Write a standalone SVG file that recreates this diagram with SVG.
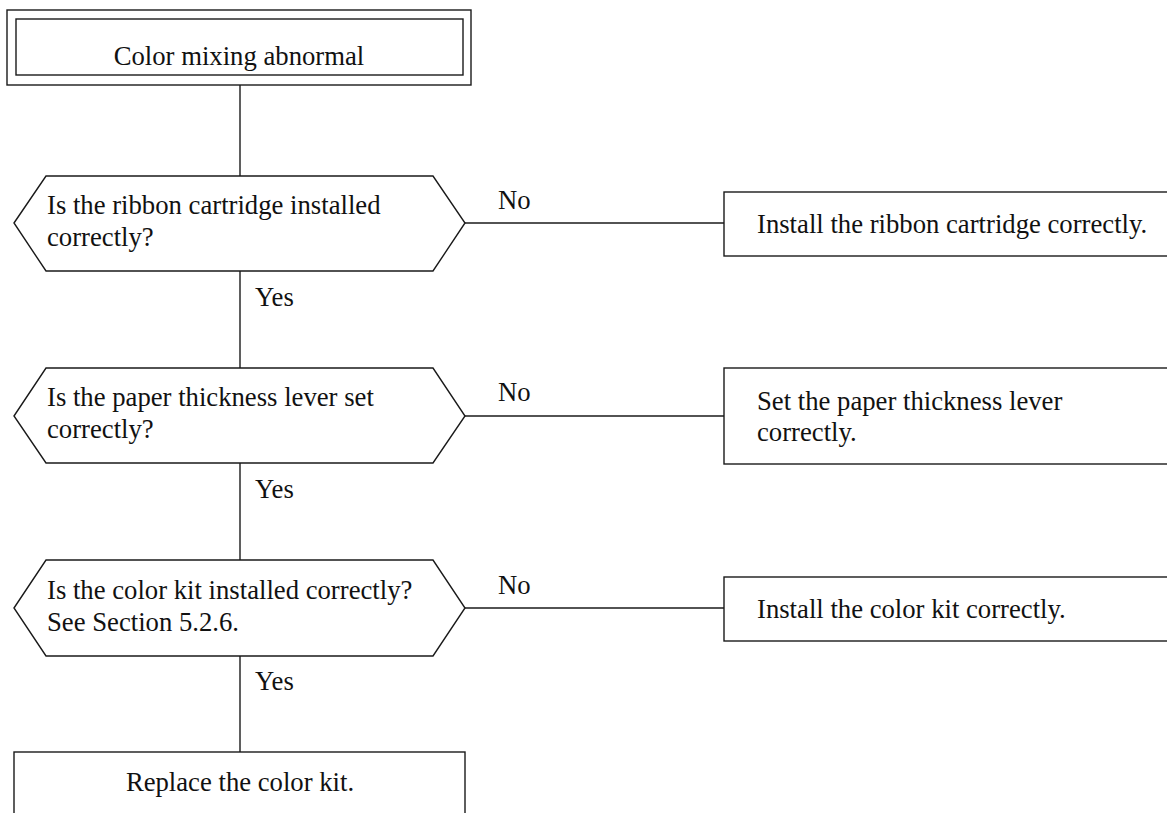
<svg xmlns="http://www.w3.org/2000/svg" width="1167" height="813" viewBox="0 0 1167 813">
  <style>
    .shape { fill: #ffffff; stroke: #1a1a1a; stroke-width: 1.4; }
    .wire { fill: none; stroke: #1a1a1a; stroke-width: 1.4; }
    text { font-family: "Liberation Serif", "Times New Roman", serif; font-size: 26.7px; fill: #111111; }
    .mid { text-anchor: middle; }
  </style>
  <rect width="1167" height="813" fill="#ffffff"/>

  <!-- connectors -->
  <g id="connectors">
    <line class="wire" x1="240" y1="85" x2="240" y2="176"/>
    <line class="wire" x1="240" y1="271" x2="240" y2="368"/>
    <line class="wire" x1="240" y1="463" x2="240" y2="560"/>
    <line class="wire" x1="240" y1="656" x2="240" y2="752"/>
    <line class="wire" x1="465" y1="223" x2="724" y2="223"/>
    <line class="wire" x1="465" y1="416" x2="724" y2="416"/>
    <line class="wire" x1="465" y1="608" x2="724" y2="608"/>
    <text x="255" y="306">Yes</text>
    <text x="255" y="498">Yes</text>
    <text x="255" y="690">Yes</text>
    <text x="498" y="209">No</text>
    <text x="498" y="401">No</text>
    <text x="498" y="594">No</text>
  </g>

  <!-- start: double-framed box -->
  <g id="start">
    <rect class="shape" x="7" y="10" width="464" height="75"/>
    <rect class="shape" x="16" y="19" width="447" height="56"/>
    <text class="mid" x="239" y="65">Color mixing abnormal</text>
  </g>

  <!-- decision 1 -->
  <g id="check-ribbon">
    <polygon class="shape" points="14,223 46,176 433,176 465,223 433,271 46,271"/>
    <text x="47" y="214">Is the ribbon cartridge installed</text>
    <text x="47" y="246">correctly?</text>
  </g>
  <g id="fix-ribbon">
    <rect class="shape" x="724" y="192" width="460" height="64"/>
    <text x="757" y="233">Install the ribbon cartridge correctly.</text>
  </g>

  <!-- decision 2 -->
  <g id="check-lever">
    <polygon class="shape" points="14,416 46,368 433,368 465,416 433,463 46,463"/>
    <text x="47" y="406">Is the paper thickness lever set</text>
    <text x="47" y="438">correctly?</text>
  </g>
  <g id="fix-lever">
    <rect class="shape" x="724" y="368" width="460" height="96"/>
    <text x="757" y="410">Set the paper thickness lever</text>
    <text x="757" y="441">correctly.</text>
  </g>

  <!-- decision 3 -->
  <g id="check-kit">
    <polygon class="shape" points="14,608 46,560 433,560 465,608 433,656 46,656"/>
    <text x="47" y="599">Is the color kit installed correctly?</text>
    <text x="47" y="631">See Section 5.2.6.</text>
  </g>
  <g id="fix-kit">
    <rect class="shape" x="724" y="577" width="460" height="64"/>
    <text x="757" y="618">Install the color kit correctly.</text>
  </g>

  <!-- final action -->
  <g id="replace-kit">
    <rect class="shape" x="14" y="752" width="451" height="80"/>
    <text class="mid" x="240" y="791">Replace the color kit.</text>
  </g>
</svg>
